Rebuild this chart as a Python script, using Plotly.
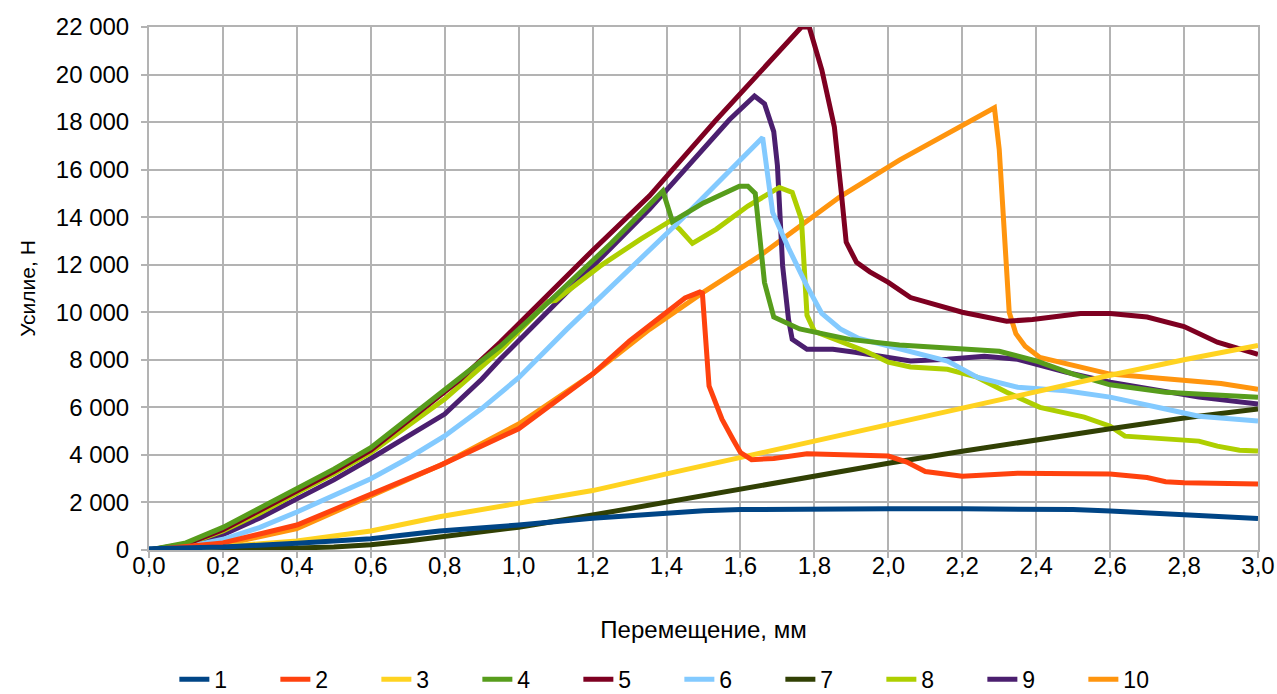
import plotly.graph_objects as go

# ---- data ----
x1 = [0, 0.2, 0.4, 0.6, 0.786, 1.0, 1.2, 1.4, 1.5, 1.6, 1.8, 2.0, 2.2, 2.4, 2.5, 2.6, 2.7, 2.8, 2.9, 3.0]
y1 = [50, 130, 280, 470, 800, 1050, 1340, 1580, 1650, 1700, 1730, 1730, 1730, 1730, 1700, 1640, 1550, 1470, 1390, 1330]

x2 = [0, 0.2, 0.4, 0.6, 0.786, 1.0, 1.2, 1.3, 1.4, 1.45, 1.49, 1.497, 1.515, 1.55, 1.58, 1.6, 1.63, 1.69, 1.78, 1.9, 2.0, 2.05, 2.1, 2.2, 2.35, 2.6, 2.7, 2.75, 2.8, 3.0]
y2 = [0, 300, 1050, 2350, 3550, 5100, 7400, 8800, 10000, 10600, 10850, 10800, 6900, 5500, 4650, 4100, 3800, 3850, 4050, 4000, 3950, 3700, 3300, 3100, 3230, 3200, 3050, 2870, 2830, 2780]

x3 = [0, 0.2, 0.4, 0.6, 0.786, 1.0, 1.2, 1.4, 1.6, 1.8, 2.0, 2.2, 2.4, 2.6, 2.8, 3.0]
y3 = [0, 150, 380, 800, 1400, 1950, 2500, 3200, 3900, 4580, 5250, 5950, 6650, 7350, 8000, 8600]

x4 = [0, 0.1, 0.2, 0.3, 0.4, 0.5, 0.6, 0.74, 0.84, 0.95, 1.1, 1.25, 1.39, 1.416, 1.5, 1.597, 1.62, 1.64, 1.665, 1.69, 1.76, 1.895, 2.03, 2.2, 2.3, 2.4, 2.5, 2.6, 2.75, 3.0]
y4 = [0, 300, 950, 1750, 2600, 3400, 4300, 6000, 7180, 8570, 10700, 12900, 15100, 13820, 14600, 15300, 15300, 15000, 11250, 9800, 9300, 8860, 8620, 8440, 8360, 7950, 7400, 6950, 6640, 6430]

x5 = [0, 0.1, 0.2, 0.3, 0.4, 0.5, 0.6, 0.74, 0.84, 0.95, 1.2, 1.354, 1.535, 1.765, 1.786, 1.82, 1.854, 1.873, 1.886, 1.914, 1.95, 2.0, 2.06, 2.2, 2.32, 2.39, 2.52, 2.6, 2.7, 2.8, 2.89, 3.0]
y5 = [0, 250, 850, 1650, 2500, 3300, 4200, 5900, 7150, 8740, 12600, 14900, 18100, 22000, 22000, 20200, 17800, 15000, 12950, 12100, 11700, 11260, 10620, 10000, 9620, 9700, 9950, 9950, 9800, 9400, 8740, 8230]

x6 = [0, 0.1, 0.2, 0.3, 0.4, 0.5, 0.6, 0.7, 0.8, 0.9, 1.0, 1.13, 1.31, 1.44, 1.66, 1.687, 1.73, 1.78, 1.82, 1.87, 1.92, 2.0, 2.06, 2.16, 2.24, 2.35, 2.48, 2.6, 2.75, 2.84, 3.0]
y6 = [0, 120, 450, 950, 1600, 2300, 3000, 3850, 4800, 5950, 7250, 9280, 11930, 13900, 17350, 14200, 12700, 11100, 9950, 9300, 8900, 8600, 8360, 7950, 7270, 6850, 6700, 6430, 5930, 5630, 5430]

x7 = [0, 0.2, 0.4, 0.5, 0.6, 0.7, 0.786, 0.9, 1.0, 1.2, 1.4, 1.6, 1.8, 2.0, 2.2, 2.4, 2.6, 2.8, 3.0]
y7 = [0, 30, 80, 130, 220, 380, 540, 750, 960, 1470, 2020, 2600, 3100, 3650, 4150, 4650, 5100, 5550, 5930]

x8 = [0, 0.1, 0.2, 0.3, 0.4, 0.5, 0.6, 0.8, 0.95, 1.08, 1.1, 1.22, 1.33, 1.41, 1.435, 1.47, 1.535, 1.62, 1.705, 1.74, 1.765, 1.78, 1.8, 1.85, 1.94, 2.0, 2.06, 2.16, 2.24, 2.32, 2.41, 2.53, 2.6, 2.64, 2.75, 2.84, 2.89, 2.95, 3.0]
y8 = [0, 230, 800, 1550, 2400, 3200, 4100, 6350, 8400, 10450, 10500, 11940, 13080, 13840, 13500, 12900, 13500, 14470, 15250, 15040, 13900, 9870, 9200, 8900, 8350, 7900, 7700, 7600, 7270, 6640, 6000, 5590, 5210, 4790, 4660, 4580, 4370, 4200, 4160]

x9 = [0, 0.1, 0.2, 0.3, 0.4, 0.5, 0.6, 0.8, 0.9, 0.95, 1.354, 1.57, 1.638, 1.665, 1.69, 1.70, 1.714, 1.73, 1.74, 1.78, 1.85, 1.91, 2.03, 2.06, 2.16, 2.26, 2.35, 2.48, 2.6, 2.75, 2.84, 3.0]
y9 = [0, 180, 650, 1350, 2150, 2950, 3850, 5720, 7180, 8020, 14340, 18100, 19100, 18770, 17600, 16170, 11960, 9700, 8860, 8440, 8440, 8320, 8020, 7950, 8020, 8150, 8020, 7480, 7060, 6640, 6430, 6140]

x10 = [0, 0.2, 0.4, 0.6, 0.8, 1.0, 1.2, 1.354, 1.5, 1.65, 1.87, 2.03, 2.15, 2.287, 2.3, 2.327, 2.345, 2.37, 2.41, 2.5, 2.6, 2.75, 2.9, 3.0]
y10 = [0, 220, 900, 2250, 3650, 5300, 7400, 9280, 10850, 12350, 14870, 16400, 17400, 18600, 16850, 10000, 9100, 8570, 8100, 7750, 7400, 7200, 7000, 6760]

names = ["1", "2", "3", "4", "5", "6", "7", "8", "9", "10"]
colors = ["#004586", "#ff420e", "#ffd320", "#579d1c", "#7e0021",
          "#83caff", "#314004", "#aecf00", "#4b1f6f", "#ff950e"]
xs = [x1, x2, x3, x4, x5, x6, x7, x8, x9, x10]
ys = [y1, y2, y3, y4, y5, y6, y7, y8, y9, y10]

fig = go.Figure()
for i in reversed(range(10)):
    fig.add_trace(go.Scatter(
        x=xs[i], y=ys[i], mode="lines", name=names[i],
        line=dict(color=colors[i], width=5),
        legendrank=i + 1,
    ))

FONT = "Liberation Sans, Arial, sans-serif"
grid = "#b3b3b3"

fig.update_layout(
    width=1277, height=694,
    margin=dict(l=149, r=19, t=27, b=144, autoexpand=False),
    paper_bgcolor="white", plot_bgcolor="white",
    separators=", ",
    font=dict(family=FONT, size=20, color="black"),
    showlegend=True,
    legend=dict(
        orientation="h", xref="container", yref="paper",
        x=0.532, xanchor="center", y=-0.247, yanchor="middle",
        font=dict(size=23), entrywidth=56, traceorder="normal",
    ),
    xaxis=dict(
        range=[0, 3], dtick=0.2, tick0=0, tickformat=".1f",
        automargin=False,
        showgrid=True, gridcolor=grid, gridwidth=2,
        showline=True, linecolor=grid, linewidth=2, mirror=True,
        ticks="outside", ticklen=6, tickcolor=grid, tickwidth=2,
        ticklabelstandoff=-13,
        zeroline=False,
        title=dict(text="Перемещение, мм", font=dict(size=24), standoff=43),
        tickfont=dict(size=24),
    ),
    yaxis=dict(
        range=[0, 22000], dtick=2000, tick0=0, tickformat=",d",
        automargin=False,
        showgrid=True, gridcolor=grid, gridwidth=2,
        showline=True, linecolor=grid, linewidth=2, mirror=True,
        ticks="outside", ticklen=6, tickcolor=grid, tickwidth=2,
        ticklabelstandoff=7,
        zeroline=False,
        title=dict(text="Усилие, Н", font=dict(size=21), standoff=14),
        tickfont=dict(size=24),
    ),
)

fig.write_html("out.html", config={"displayModeBar": False},
               post_script="document.body.style.margin='0';")
